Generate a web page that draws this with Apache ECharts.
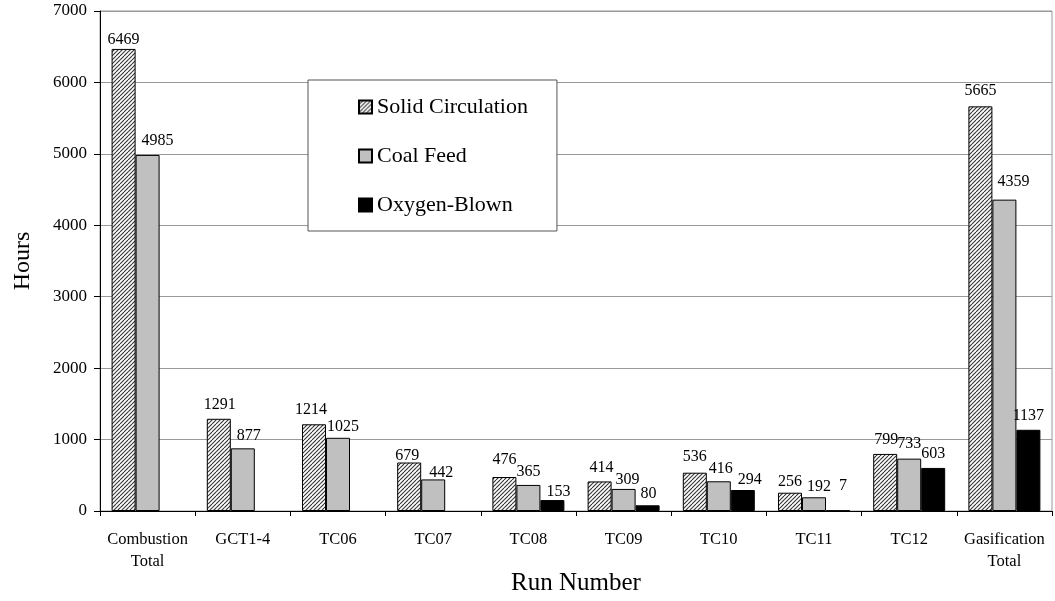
<!DOCTYPE html>
<html><head><meta charset="utf-8">
<script src="https://cdn.jsdelivr.net/npm/echarts@6/dist/echarts.min.js"></script>
<style>html,body{margin:0;padding:0;background:#fff}#c{width:1055px;height:601px}</style>
</head><body><div id="c"></div>
<script>
const categories = ['Combustion\nTotal','GCT1-4','TC06','TC07','TC08','TC09','TC10','TC11','TC12','Gasification\nTotal'];
const solidCirculation = [6469,1291,1214,679,476,414,536,256,799,5665];
const coalFeed = [4985,877,1025,442,365,309,416,192,733,4359];
const oxygenBlown = [null,null,null,null,153,80,294,7,603,1137];
const yTicks = [0,1000,2000,3000,4000,5000,6000,7000];

// label nudges (px) as placed in the original figure – styling only
const solidLabelOffset = [[0,4],[1,-1],[-3,-1],[-2,6],[0,-4],[2,-1],[0,-3],[0,2],[1,-1],[0,-3]];
const coalLabelOffset = [[10,-1],[6,0],[5,2],[8,6],[0,0],[4,4],[2,1],[5,3],[0,-2],[9,-5]];
const oxyLabelOffset = [[0,0],[0,0],[0,0],[0,0],[6,5],[1,2],[7,3],[5,-11],[0,-1],[0,-1]];

const FONT = '"Liberation Serif","Times New Roman",serif';
function hatch(){
  const s = 8, cv = document.createElement('canvas');
  cv.width = s; cv.height = s;
  const g = cv.getContext('2d');
  g.fillStyle = '#fff'; g.fillRect(0,0,s,s);
  g.strokeStyle = '#333'; g.lineWidth = 1.1;
  for (let k = -8; k <= 8; k += 4) { g.beginPath(); g.moveTo(k, s); g.lineTo(k + s, 0); g.stroke(); }
  return cv;
}
function withOffsets(values, offs){
  return values.map((v, i) => v == null ? null : {value: v, label: {offset: offs[i]}});
}
const chart = echarts.init(document.getElementById('c'), null, {renderer:'canvas'});
const lbl = {show:true, position:'top', distance:5, color:'#000', fontFamily:FONT, fontSize:16};
const common = {type:'bar', barWidth:24, barGap:'0%', label:lbl, emphasis:{disabled:true}};
chart.setOption({
  animation:false,
  grid:{left:100, right:3, top:11, bottom:90, show:true, borderColor:'#999', borderWidth:1,
        containLabel:false, outerBoundsMode:'none'},
  legend:{
    orient:'vertical', left:308, top:80,
    backgroundColor:'#fff', borderColor:'#555', borderWidth:1,
    padding:[16,29,15,50], itemGap:27, itemWidth:13, itemHeight:13, icon:'rect',
    textStyle:{fontFamily:FONT, fontSize:22, color:'#000'},
    data:['Solid Circulation','Coal Feed','Oxygen-Blown']
  },
  xAxis:{
    type:'category', data:categories,
    name:'Run Number', nameLocation:'middle', nameGap:60, nameMoveOverlap:false,
    nameTextStyle:{fontFamily:FONT, fontSize:25, color:'#000'},
    axisLine:{lineStyle:{color:'#000', width:1}},
    axisTick:{show:true, length:5, lineStyle:{color:'#000'}},
    axisLabel:{fontFamily:FONT, fontSize:16.5, color:'#000', lineHeight:22, margin:18, interval:0},
    splitLine:{show:false}
  },
  yAxis:{
    type:'value', min:yTicks[0], max:yTicks[yTicks.length-1], interval:1000,
    name:'Hours', nameLocation:'middle', nameGap:65, nameMoveOverlap:false,
    nameTextStyle:{fontFamily:FONT, fontSize:24, color:'#000'},
    axisLine:{show:true, lineStyle:{color:'#000', width:1}},
    axisTick:{show:true, length:6, lineStyle:{color:'#000'}},
    axisLabel:{fontFamily:FONT, fontSize:17, color:'#000', margin:13, formatter: v => String(v)},
    splitLine:{show:true, lineStyle:{color:'#999', width:1}}
  },
  series:[
    Object.assign({}, common, {name:'Solid Circulation', data:withOffsets(solidCirculation, solidLabelOffset),
      itemStyle:{color:{image:hatch(), repeat:'repeat'}, borderColor:'#000', borderWidth:1}}),
    Object.assign({}, common, {name:'Coal Feed', data:withOffsets(coalFeed, coalLabelOffset),
      itemStyle:{color:'#c0c0c0', borderColor:'#000', borderWidth:1}}),
    Object.assign({}, common, {name:'Oxygen-Blown', data:withOffsets(oxygenBlown, oxyLabelOffset),
      itemStyle:{color:'#000', borderColor:'#000', borderWidth:1}})
  ]
});
</script></body></html>
